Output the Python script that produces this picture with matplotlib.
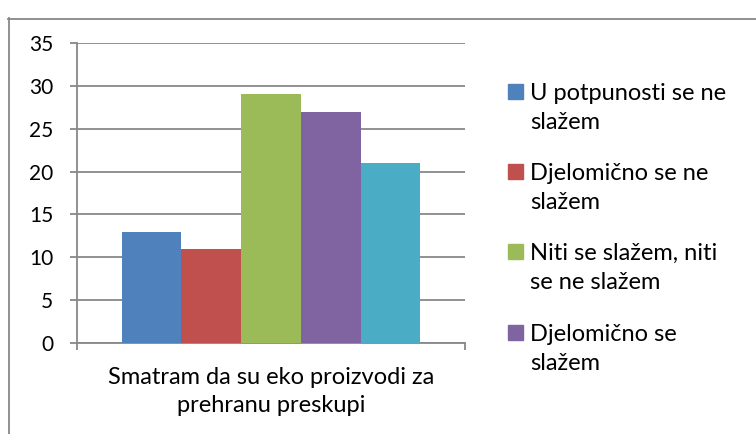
import matplotlib.pyplot as plt
from matplotlib.patches import Rectangle
from matplotlib.lines import Line2D
import numpy as np

plt.rcParams['font.family'] = ['Lato', 'DejaVu Sans']

category = "Smatram da su eko proizvodi za\nprehranu preskupi"
series = ["U potpunosti se ne\nslažem", "Djelomično se ne\nslažem",
          "Niti se slažem, niti\nse ne slažem", "Djelomično se\nslažem"]
values = [13, 11, 29, 27, 21]
colors = ["#4F81BD", "#C0504D", "#9BBB59", "#8064A2", "#4BACC6"]
yticks = [0, 5, 10, 15, 20, 25, 30, 35]

W, H = 756, 434
grid_c = "#888888"
fs = 17
fs_tick = 15

fig = plt.figure(figsize=(W / 100, H / 100), dpi=100)
ax = fig.add_axes([77 / W, 1 - 343 / H, 388 / W, 300 / H])

bw = 0.154
n = len(values)
offsets = (np.arange(n) - (n - 1) / 2) * bw
for off, v, c in zip(offsets, values, colors):
    ax.bar(off, v, width=bw, color=c, zorder=3)

ax.set_xlim(-0.5, 0.5)
ax.set_ylim(0, 35)
ax.set_yticks(yticks)
ax.yaxis.grid(True, color=grid_c, lw=1.3, zorder=0)
ax.tick_params(axis='y', length=5, width=1.3, color=grid_c, labelsize=fs_tick, pad=12)
ax.set_xticks([0])
ax.set_xticklabels([category], fontsize=fs, linespacing=1.45)
ax.set_xticks([-0.5, 0.5], minor=True)
ax.tick_params(axis='x', which='major', length=0, pad=17)
ax.tick_params(axis='x', which='minor', length=5, width=1.3, color=grid_c)
for s in ['top', 'right']:
    ax.spines[s].set_visible(False)
for s in ['left', 'bottom']:
    ax.spines[s].set_color(grid_c)
    ax.spines[s].set_linewidth(1.3)

# legend drawn by hand: square next to first line of each wrapped label
# (the fifth entry is cut off in the original chart)
leg_y = [92, 172, 252, 333]
for lab, c, y in zip(series, colors, leg_y):
    fig.patches.append(Rectangle((508 / W, 1 - (y + 7) / H), 15 / W, 15 / H,
                                 transform=fig.transFigure, color=c))
    fig.text(530 / W, 1 - (y - 9) / H, lab, fontsize=fs, va='top', ha='left',
             linespacing=1.45)

# outer chart border (partly cut off)
fig.add_artist(Line2D([8.5 / W, 8.5 / W], [0, 1 - 18 / H], color=grid_c, lw=1.3))
fig.add_artist(Line2D([8 / W, 1], [1 - 18.5 / H, 1 - 18.5 / H], color=grid_c, lw=1.3))

fig.savefig("out.png", dpi=100)
